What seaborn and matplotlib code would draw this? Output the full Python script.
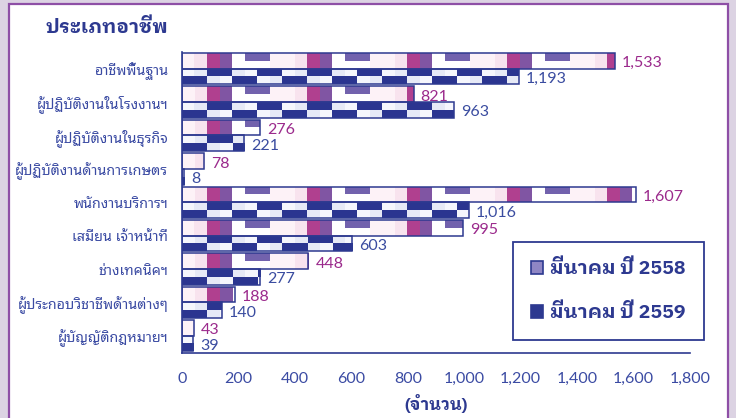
import numpy as np
import pandas as pd
import matplotlib
matplotlib.use("Agg")
import matplotlib.pyplot as plt
import seaborn as sns
from matplotlib.colors import to_rgb
from matplotlib.patches import Patch, Rectangle
from matplotlib.ticker import FuncFormatter, FixedLocator

# data
occupations = ['อาชีพพื้นฐาน', 'ผู้ปฏิบัติงานในโรงงานฯ', 'ผู้ปฏิบัติงานในธุรกิจ',
               'ผู้ปฏิบัติงานด้านการเกษตร', 'พนักงานบริการฯ', 'เสมียน เจ้าหน้าที่',
               'ช่างเทคนิคฯ', 'ผู้ประกอบวิชาชีพด้านต่างๆ', 'ผู้บัญญัติกฎหมายฯ']
mar_2558 = [1533, 821, 276, 78, 1607, 995, 448, 188, 43]
mar_2559 = [1193, 963, 221, 8, 1016, 603, 277, 140, 39]
years = ['มีนาคม ปี 2558', 'มีนาคม ปี 2559']

df = pd.DataFrame({
    'อาชีพ': occupations * 2,
    'จำนวน': mar_2558 + mar_2559,
    'ปี': [years[0]] * len(occupations) + [years[1]] * len(occupations),
})

navy = '#2d3990'
tick_col = '#3b4ba3'
purple_txt = '#9b2a8c'
blue_txt = '#3a4ca0'
bold_fam = ['IBM Plex Sans Thai Looped', 'Loma', 'DejaVu Sans']

sns.set_theme(style='white')
plt.rcParams['font.family'] = ['Noto Sans Thai Looped', 'Lato', 'DejaVu Sans']

fig = plt.figure(figsize=(7.36, 4.18), dpi=100)
fig.patch.set_facecolor('#dcd3e3')
# white panel with purple border
fig.patches.append(Rectangle((9 / 736, -0.05), 719 / 736, 1 - 4 / 418 + 0.05,
                             transform=fig.transFigure, facecolor='white',
                             edgecolor='#8e4fa6', linewidth=1.6, zorder=-5))

ax = fig.add_axes([182 / 736, 65.5 / 418, 508 / 736, 300.5 / 418])
ax.set_facecolor('none')

sns.barplot(data=df, y='อาชีพ', x='จำนวน', hue='ปี', orient='h', order=occupations,
            hue_order=years, palette=['#f3dbe8', navy], width=0.94, gap=0,
            edgecolor=navy, linewidth=1.1, legend=False, ax=ax)

# picture-like fill for the bars
pk, pk2, mg, pu, lv, wh = '#f8e3ee', '#fdf2f7', '#b0408f', '#8055a3', '#7262ad', '#ffffff'
N, L, W = '#2b3590', '#e6e9f6', '#f5f6fc'
tiles = [
    [[pk2, pk, mg, pu, wh, lv, lv, pk2], [pk2, pk, mg, pu, wh, wh, wh, pk2]],
    [[W, L, N, N, L, W, N, N], [N, N, L, W, N, N, W, L]],
]
px_per_unit = 508 / 1800
cell = 12.5
for ci, cont in enumerate(ax.containers):
    tile = tiles[ci]
    for bar in cont:
        x0, w, y0, h = bar.get_x(), bar.get_width(), bar.get_y(), bar.get_height()
        bar.set_facecolor('none')
        bar.set_zorder(3)
        if w <= 0:
            continue
        ncols = max(1, int(np.ceil(w * px_per_unit / cell)))
        img = np.array([[to_rgb(row[c % len(row)]) for c in range(ncols)] for row in tile])
        x1 = x0 + ncols * cell / px_per_unit
        im = ax.imshow(img, extent=(x0, x1, y0 + h, y0), origin='upper', aspect='auto',
                       interpolation='nearest', zorder=2)
        im.set_clip_path(bar)

ax.set_xlim(0, 1800)
ax.set_ylim(len(occupations) - 0.5, -0.5)

# value labels
for cont, vals, col in zip(ax.containers, [mar_2558, mar_2559], [purple_txt, blue_txt]):
    anns = ax.bar_label(cont, labels=[f'{v:,}' for v in vals], padding=5, color=col,
                        fontsize=11.5, family=['Lato'])
    for a in anns:
        a.xyann = (5, -1.8)

# axes styling
for s in ['top', 'right']:
    ax.spines[s].set_visible(False)
for s in ['left', 'bottom']:
    ax.spines[s].set_color(navy)
    ax.spines[s].set_linewidth(1.2)

ax.set_xticks(range(0, 1801, 200))
ax.xaxis.set_major_formatter(FuncFormatter(lambda v, p: f'{v:,.0f}'))
ax.tick_params(axis='x', direction='out', length=5, width=1.2, color=navy,
               labelcolor=tick_col, labelsize=11.5, pad=9)
for t in ax.get_xticklabels():
    t.set_family(['Lato'])

ax.yaxis.set_minor_locator(FixedLocator(np.arange(-0.5, len(occupations), 1)))
ax.tick_params(axis='y', which='major', length=0, labelcolor=tick_col, labelsize=10.3, pad=10)
ax.tick_params(axis='y', which='minor', direction='out', length=5, width=1.2, color=navy)

ax.set_ylabel('')
ax.set_xlabel('(จำนวน)', fontsize=12, fontweight='bold', color=navy, labelpad=6,
              family=bold_fam)

fig.text(45 / 736, 1 - 28 / 418, 'ประเภทอาชีพ', fontsize=14, fontweight='bold',
         color=navy, va='center', ha='left', family=bold_fam)

# legend
handles = [Patch(facecolor='#8f86c4', edgecolor=navy, linewidth=1.2),
           Patch(facecolor=navy, edgecolor=navy, linewidth=1.2)]
leg = fig.legend(handles, years, loc='center', bbox_to_anchor=(608.5 / 736, 1 - 291 / 418),
                 frameon=True, fancybox=False, edgecolor=navy, framealpha=1,
                 prop={'size': 14, 'weight': 'bold', 'family': bold_fam},
                 handlelength=0.6, handleheight=0.6,
                 handletextpad=0.4, labelspacing=1.3, borderpad=0.9)
leg.get_frame().set_linewidth(1.3)
for t in leg.get_texts():
    t.set_color(navy)

fig.savefig('out.png', dpi=100, facecolor=fig.get_facecolor())
